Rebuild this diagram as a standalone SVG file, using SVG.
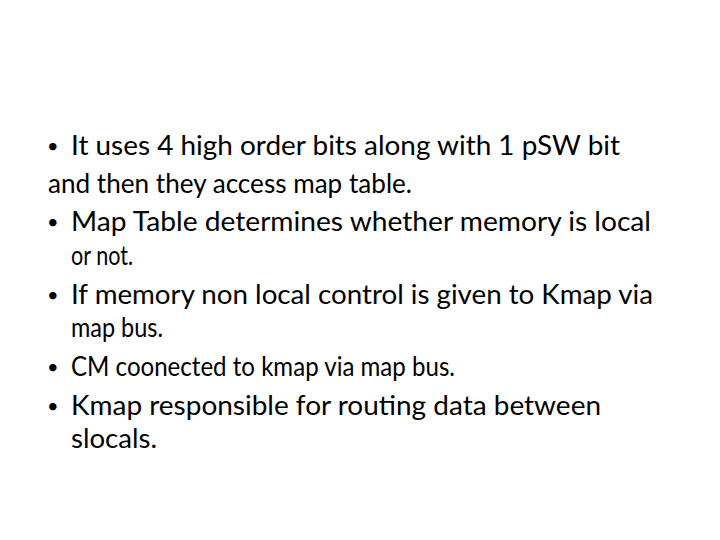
<svg xmlns="http://www.w3.org/2000/svg" width="720" height="540" viewBox="0 0 720 540">
<style>text{font-family:Lato,"Open Sans","Liberation Sans",sans-serif;font-size:26px;fill:#000} .b{font-size:20px}</style>
<rect width="720" height="540" fill="#fff"/>
<g id="content" xml:space="preserve">
<text class="b" x="47" y="153">•</text><text x="71" y="155" textLength="549" lengthAdjust="spacingAndGlyphs">It uses 4 high order bits  along with 1 pSW bit</text>
<text x="48" y="193" textLength="364" lengthAdjust="spacingAndGlyphs">and then they access map table.</text>
<text class="b" x="47" y="229">•</text><text x="71" y="231" textLength="580" lengthAdjust="spacingAndGlyphs">Map Table determines whether memory is local</text>
<text x="71" y="265" textLength="62" lengthAdjust="spacingAndGlyphs">or not.</text>
<text class="b" x="47" y="302">•</text><text x="71" y="304" textLength="582" lengthAdjust="spacingAndGlyphs">If memory non local control is given to Kmap via</text>
<text x="71" y="337" textLength="92" lengthAdjust="spacingAndGlyphs">map bus.</text>
<text class="b" x="47" y="374">•</text><text x="71" y="376" textLength="384" lengthAdjust="spacingAndGlyphs">CM coonected to kmap via map bus.</text>
<text class="b" x="47" y="413">•</text><text x="71" y="415" textLength="530" lengthAdjust="spacingAndGlyphs">Kmap responsible for routing data between</text>
<text x="71" y="448" textLength="86" lengthAdjust="spacingAndGlyphs">slocals.</text>
</g>
</svg>
